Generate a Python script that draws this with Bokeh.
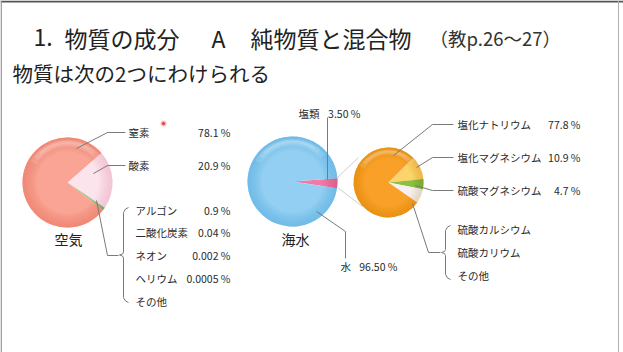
import numpy as np
from bokeh.plotting import figure
from bokeh.models import Range1d
from bokeh.core.properties import value
from bokeh.embed import file_html
from bokeh.resources import INLINE

W, H = 623, 352
FONT = "Noto Sans CJK JP"

# ---------------- data ----------------
title_parts = ["1.", "物質の成分", "A", "純物質と混合物"]
title_note = "（教p.26〜27）"
subtitle = "物質は次の2つにわけられる"

air_title = "空気"
air_names = ["窒素", "酸素", "アルゴン", "二酸化炭素", "ネオン", "ヘリウム", "その他"]
air_pcts = ["78.1 %", "20.9 %", "0.9 %", "0.04 %", "0.002 %", "0.0005 %", ""]
air_slices = ["酸素", "その他", "窒素"]
air_values = [20.9, 1.0, 78.1]

sea_title = "海水"
sea_names = ["塩類", "水"]
sea_pcts = ["3.50 %", "96.50 %"]
sea_slices = ["塩類", "水"]
sea_values = [3.50, 96.50]

salt_names = ["塩化ナトリウム", "塩化マグネシウム", "硫酸マグネシウム", "硫酸カルシウム", "硫酸カリウム", "その他"]
salt_pcts = ["77.8 %", "10.9 %", "4.7 %", "", "", ""]
salt_slices = ["塩化マグネシウム", "硫酸マグネシウム", "その他", "塩化ナトリウム"]
salt_values = [10.9, 4.7, 6.6, 77.8]

# ---------------- figure ----------------
p = figure(width=W, height=H, x_range=Range1d(0, W), y_range=Range1d(0, H),
           output_backend="svg", toolbar_location=None, min_border=0)
p.axis.visible = False
p.grid.visible = False
p.outline_line_color = None
p.background_fill_color = "white"
p.border_fill_color = "white"


def Y(y):
    return H - y


def txt(x, y, s, size, align="left", color="#2a2a2a", weight="normal"):
    p.text(x=[x], y=[Y(y)], text=[s], text_font=value(FONT),
           text_font_size=f"{size}px", text_align=align, text_baseline="middle",
           text_color=color, text_font_style=weight)


def poly(xs, ys, color="#7a7a7a", width=1.0):
    p.line(x=xs, y=[Y(v) for v in ys], line_color=color, line_width=width)


def brace(x, y1, y2, color="#7a7a7a"):
    m = (y1 + y2) / 2
    xs = [x + 5, x + 2, x, x, x - 1, x - 4, x - 1, x, x, x + 2, x + 5]
    ys = [y1, y1 + 1.5, y1 + 5, m - 3, m - 1, m, m + 1, m + 3, y2 - 5, y2 - 1.5, y2]
    poly(xs, ys, color)


def pie(cx, cy, r, values, colors, rims, start_deg):
    v = np.array(values, dtype=float)
    cum = np.concatenate([[0], np.cumsum(v)]) / v.sum() * 360.0
    ang = np.radians(start_deg - cum)
    starts = ang[1:]
    ends = ang[:-1]
    n = len(values)
    p.wedge(x=[cx] * n, y=[Y(cy)] * n, radius=r, start_angle=list(starts),
            end_angle=list(ends), fill_color=colors, line_color=None)
    # darker rim gradient
    layers = 7
    for k in range(layers):
        inner = r * (0.70 + 0.30 * k / layers)
        p.annular_wedge(x=[cx] * n, y=[Y(cy)] * n, inner_radius=inner, outer_radius=r,
                        start_angle=list(starts), end_angle=list(ends),
                        fill_color=rims, fill_alpha=0.10, line_color=None)
    # glossy highlight along the top edge
    for k in range(4):
        p.annular_wedge(x=[cx], y=[Y(cy)], inner_radius=r * (0.80 + 0.03 * k),
                        outer_radius=r * (0.95 - 0.02 * k),
                        start_angle=np.radians(40 + 8 * k), end_angle=np.radians(150 - 8 * k),
                        fill_color="white", fill_alpha=0.13, line_color=None)


# ---------------- slide frame ----------------
p.line(x=[0, W], y=[H - 1, H - 1], line_color="#555555", line_width=2)
p.line(x=[0.7, 0.7], y=[0, H], line_color="#9a9a9a", line_width=1.5)
p.line(x=[618, 618], y=[0, H], line_color="#b0b0b0", line_width=1)

# ---------------- titles ----------------
txt(33, 37, title_parts[0], 23, color="#222222")
txt(64, 37, title_parts[1], 23, color="#222222")
txt(211, 37, title_parts[2], 23, color="#222222")
txt(250, 37, title_parts[3], 23, color="#222222")
txt(429, 37, title_note, 18.5, color="#333333")
txt(12, 72, subtitle, 20.5, color="#222222")

# ---------------- air pie ----------------
pie(67, 182, 45, air_values,
    ["#fce4ec", "#9dc183", "#f9a494"],
    ["#e8b0c0", "#6f9a55", "#ec7462"], 41)

poly([76, 107, 125], [148, 132, 132])
poly([93, 107, 125], [173, 165, 165])
poly([96, 107, 118], [200, 255, 255])
txt(128, 132, air_names[0], 10.5)
txt(230, 132, air_pcts[0], 10.5, align="right")
txt(128, 165, air_names[1], 10.5)
txt(230, 165, air_pcts[1], 10.5, align="right")
brace(123, 207, 302)
air_rows = [210, 232, 255, 278, 301]
for name, pct, yy in zip(air_names[2:], air_pcts[2:], air_rows):
    txt(135, yy, name, 10.5)
    if pct:
        txt(230, yy, pct, 10.5, align="right")
txt(68, 238, air_title, 14, align="center", color="#222222")
p.scatter(x=[163], y=[Y(123)], size=6, fill_color="#f26d6d", fill_alpha=0.45, line_color=None)
p.scatter(x=[163], y=[Y(123)], size=3, fill_color="#e83c3c", line_color=None)

# ---------------- sea water pie ----------------
pie(292, 181, 45, sea_values,
    ["#f07aa5", "#92cff2"],
    ["#d0507e", "#58b0e4"], 4)
poly([337, 358], [177, 157], color="#cfcfcf")
poly([337, 362], [187, 206], color="#cfcfcf")
poly([327, 327], [117, 179])
txt(298, 113, sea_names[0], 10.5)
txt(360, 113, sea_pcts[0], 10.5, align="right")
poly([316, 345, 345], [211, 231, 258])
txt(340, 266, sea_names[1], 10.5)
txt(397, 266, sea_pcts[1], 10.5, align="right")
txt(295, 238, sea_title, 14, align="center", color="#222222")

# ---------------- salt pie ----------------
pie(388, 182, 35, salt_values,
    ["#fcd46a", "#8dc042", "#f6f0f3", "#f8a027"],
    ["#e6a530", "#679a25", "#d8c8a0", "#e28508"], 45)
poly([393, 432, 453], [155, 124, 124])
poly([416, 432, 453], [167, 157, 157])
poly([415, 432, 453], [185, 190, 190])
poly([412, 428, 440], [203, 252, 252])
salt_rows = [124, 157, 190, 229, 252, 275]
for name, pct, yy in zip(salt_names, salt_pcts, salt_rows):
    txt(457, yy, name, 10.5)
    if pct:
        txt(580, yy, pct, 10.5, align="right")
brace(445, 225, 279)

open("out.html", "w").write(file_html(p, INLINE))
